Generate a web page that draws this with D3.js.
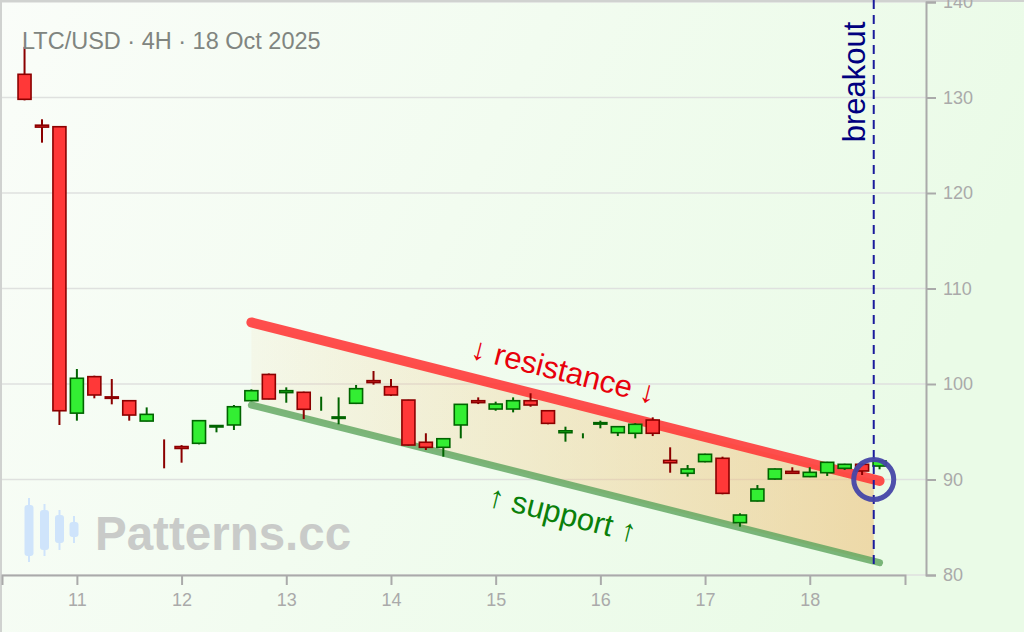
<!DOCTYPE html>
<html>
<head>
<meta charset="utf-8">
<script src="https://cdn.jsdelivr.net/npm/d3@7"></script>
<style>
  html, body { margin: 0; padding: 0; background: #f4fcf3; }
  svg { display: block; font-family: "Liberation Sans", Arial, sans-serif; }
</style>
</head>
<body>
<div id="chart"></div>
<script>
// LTC/USD 4H candles, 10-18 Oct 2025 (day + hour, UTC)
var times = ["10T12","10T16","10T20","11T00","11T04","11T08","11T12","11T16","11T20",
  "12T00","12T04","12T08","12T12","12T16","12T20","13T00","13T04","13T08","13T12","13T16",
  "13T20","14T00","14T04","14T08","14T12","14T16","14T20","15T00","15T04","15T08","15T12",
  "15T16","15T20","16T00","16T04","16T08","16T12","16T16","16T20","17T00","17T04","17T08",
  "17T12","17T16","17T20","18T00","18T04","18T08","18T12","18T16"];
var opens  = [132.43,127.1,126.94,96.95,100.77,98.65,98.25,96.12,92.72,93.45,93.79,95.5,95.71,98.25,
  101.0,99.1,99.13,97.9,96.4,97.98,100.35,99.72,98.32,93.9,93.37,95.71,98.25,97.38,97.38,98.25,
  97.2,94.9,94.58,95.8,94.9,94.84,96.23,92.0,90.65,91.87,92.22,85.48,87.75,90.05,90.85,90.3,
  90.71,91.17,91.59,91.41];
var highs  = [135.3,127.72,127.0,101.57,100.87,100.52,98.3,97.55,94.2,93.6,96.16,95.7,97.8,99.44,
  101.1,99.65,99.2,98.67,98.6,99.9,101.36,100.52,98.35,94.84,94.3,97.9,98.6,98.15,98.6,99.03,
  97.25,95.53,94.84,96.16,95.6,95.9,96.51,93.37,91.52,92.7,92.39,86.46,89.42,91.15,91.28,91.28,
  91.85,91.65,91.65,91.99];
var lows   = [129.7,125.27,95.7,96.16,98.5,97.87,96.16,96.1,91.17,91.76,93.68,94.94,95.18,98.2,
  98.4,98.04,96.33,97.2,95.78,97.9,99.93,98.74,93.55,93.09,92.39,94.31,97.9,97.2,97.03,97.62,
  95.78,93.96,94.31,95.36,94.55,94.31,94.55,90.71,90.3,91.8,88.45,85.06,87.7,90.0,90.6,90.25,
  90.37,91.0,90.47,91.07];
var closes = [129.81,126.9,97.2,100.6,98.85,98.5,96.75,96.82,92.7,93.25,96.16,95.65,97.62,99.3,
  98.43,99.3,97.35,97.92,96.55,99.51,100.15,98.85,93.61,93.37,94.27,97.87,98.05,97.9,98.25,97.8,
  95.88,95.1,94.6,95.95,95.53,95.78,94.84,91.75,91.1,92.64,88.55,86.28,89.0,91.1,90.65,90.75,
  91.8,91.59,90.89,91.94];

var yTicks = [80, 90, 100, 110, 120, 130, 140];
var xTickDays = ["11","12","13","14","15","16","17","18"];

// channel lines: [time, price]
var resistance = [["12T16", 106.45], ["18T16", 89.85]];
var support    = [["12T16", 97.8],   ["18T16", 81.3]];
var breakoutTime = "18T14:40";
var breakoutPrice = 90.0;

var W = 1024, H = 632;
function t(s) { return new Date("2025-10-" + s + (s.length > 5 ? "" : ":00") + ":00Z"); }

var svg = d3.select("#chart").append("svg").attr("width", W).attr("height", H);
var defs = svg.append("defs");

var bg = defs.append("linearGradient").attr("id", "bg")
  .attr("x1", "0").attr("y1", "0").attr("x2", "1").attr("y2", "0.3");
bg.append("stop").attr("offset", "0").attr("stop-color", "#fafdf9");
bg.append("stop").attr("offset", "1").attr("stop-color", "#eafbe7");

svg.append("rect").attr("width", W).attr("height", H).attr("fill", "url(#bg)");

var x = d3.scaleUtc()
  .domain([new Date("2025-10-10T06:50:00Z"), new Date("2025-10-18T21:50:00Z")])
  .range([2, 905]);
var y = d3.scaleLinear().domain([80, 140]).range([575, 2]);

// gridlines
svg.append("g").selectAll("line").data(yTicks).enter().append("line")
  .attr("x1", 0).attr("x2", 926)
  .attr("y1", function(d) { return y(d); }).attr("y2", function(d) { return y(d); })
  .attr("stroke", "#dfe1df").attr("stroke-width", 1.5);

// frame (top + left)
svg.append("line").attr("x1", 0).attr("x2", W).attr("y1", 1).attr("y2", 1)
  .attr("stroke", "#d0d2d0").attr("stroke-width", 2);
svg.append("line").attr("x1", 1).attr("x2", 1).attr("y1", 0).attr("y2", H)
  .attr("stroke", "#d0d2d0").attr("stroke-width", 2);

// watermark
var wm = svg.append("g").attr("fill", "#cfe4fb");
var icon = [[29, 498, 562, 505, 556], [44.5, 504, 556, 510, 550], [59.5, 510, 550, 515, 543], [74, 516, 543, 522, 537]];
icon.forEach(function(c) {
  wm.append("rect").attr("x", c[0] - 1).attr("y", c[1]).attr("width", 2).attr("height", c[2] - c[1]);
  wm.append("rect").attr("x", c[0] - 4.5).attr("y", c[3]).attr("width", 9).attr("height", c[4] - c[3]).attr("rx", 3);
});
svg.append("text").attr("x", 95).attr("y", 550).text("Patterns.cc")
  .attr("font-size", 47.5).attr("font-weight", "bold").attr("fill", "#c9cbc9");

// channel fill
function lerpLine(line, tm) {
  var t0 = +t(line[0][0]), t1 = +t(line[1][0]);
  var k = (tm - t0) / (t1 - t0);
  return line[0][1] + k * (line[1][1] - line[0][1]);
}
var tb = +t(breakoutTime);
var fillGrad = defs.append("linearGradient").attr("id", "chan")
  .attr("gradientUnits", "userSpaceOnUse")
  .attr("x1", x(t(resistance[0][0]))).attr("x2", x(tb)).attr("y1", 0).attr("y2", 0);
fillGrad.append("stop").attr("offset", "0").attr("stop-color", "#f5c27a").attr("stop-opacity", 0.08);
fillGrad.append("stop").attr("offset", "1").attr("stop-color", "#f0bd75").attr("stop-opacity", 0.55);

var poly = [
  [x(t(resistance[0][0])), y(resistance[0][1])],
  [x(tb), y(lerpLine(resistance, tb))],
  [x(tb), y(lerpLine(support, tb))],
  [x(t(support[0][0])), y(support[0][1])]
];
svg.append("path").attr("d", "M" + poly.join("L") + "Z").attr("fill", "url(#chan)");

var lineGen = d3.line().x(function(d) { return x(t(d[0])); }).y(function(d) { return y(d[1]); });
svg.append("path").attr("d", lineGen(support)).attr("stroke", "#5da45d").attr("stroke-opacity", 0.8)
  .attr("stroke-width", 7).attr("stroke-linecap", "round").attr("fill", "none");
svg.append("path").attr("d", lineGen(resistance)).attr("stroke", "#ff3535").attr("stroke-opacity", 0.88)
  .attr("stroke-width", 10).attr("stroke-linecap", "round").attr("fill", "none");

// labels
var ang = Math.atan2(y(resistance[1][1]) - y(resistance[0][1]), x(t(resistance[1][0])) - x(t(resistance[0][0]))) * 180 / Math.PI;
svg.append("text").attr("transform", "translate(563,373) rotate(" + ang + ")")
  .attr("text-anchor", "middle").attr("dominant-baseline", "middle")
  .attr("font-size", 31).attr("fill", "#e8000b").text("\u2193 resistance \u2193");
svg.append("text").attr("transform", "translate(562,516) rotate(" + ang + ")")
  .attr("text-anchor", "middle").attr("dominant-baseline", "middle")
  .attr("font-size", 31).attr("fill", "#0a800a").text("\u2191 support \u2191");

// candles
var candles = times.map(function(s, i) {
  return { t: t(s), o: opens[i], h: highs[i], l: lows[i], c: closes[i] };
});
var bw = 13;
var cg = svg.append("g").selectAll("g").data(candles).enter().append("g");
cg.append("line")
  .attr("x1", function(d) { return x(d.t); }).attr("x2", function(d) { return x(d.t); })
  .attr("y1", function(d) { return y(d.h); }).attr("y2", function(d) { return y(d.l); })
  .attr("stroke", function(d) { return d.c > d.o ? "#006400" : "#8b0000"; })
  .attr("stroke-width", 2);
cg.append("rect")
  .attr("x", function(d) { return x(d.t) - bw / 2; })
  .attr("width", bw)
  .attr("y", function(d) { return y(Math.max(d.o, d.c)); })
  .attr("height", function(d) { var hh = Math.abs(y(d.o) - y(d.c)); return hh < 0.5 ? 0 : hh; })
  .attr("fill", function(d) { return d.c > d.o ? "#33ee33" : "#ff3838"; })
  .attr("stroke", function(d) { return d.c > d.o ? "#006400" : "#8b0000"; })
  .attr("stroke-width", 1.6);

// breakout marker
svg.append("line").attr("x1", x(tb)).attr("x2", x(tb)).attr("y1", 0).attr("y2", 570)
  .attr("stroke", "#1a1a9c").attr("stroke-width", 2).attr("stroke-dasharray", "9,6");
svg.append("circle").attr("cx", x(tb)).attr("cy", y(breakoutPrice)).attr("r", 20)
  .attr("fill", "none").attr("stroke", "#4646a8").attr("stroke-width", 5).attr("stroke-opacity", 0.95);
svg.append("text").attr("transform", "translate(865,82) rotate(-90)")
  .attr("text-anchor", "middle").attr("font-size", 31).attr("fill", "#00007f").text("breakout");

// axes
var xAxis = d3.axisBottom(x)
  .tickValues(xTickDays.map(function(d) { return t(d + "T00"); }))
  .tickFormat(d3.utcFormat("%-d")).tickSize(10).tickPadding(8);
var gx = svg.append("g").attr("transform", "translate(0,575)").call(xAxis);
var yAxis = d3.axisRight(y).tickValues(yTicks).tickSize(10).tickPadding(7);
var gy = svg.append("g").attr("transform", "translate(926,0)").call(yAxis);
[gx, gy].forEach(function(g) {
  g.selectAll("path, line").attr("stroke", "#aaaaaa").attr("stroke-width", 2);
  g.selectAll("text").attr("fill", "#aaaaaa").attr("font-size", 18)
    .attr("font-family", "Liberation Sans, Arial, sans-serif");
});

// title
svg.append("text").attr("x", 22).attr("y", 49).attr("font-size", 23.5).attr("fill", "#808580")
  .text("LTC/USD \u00b7 4H \u00b7 18 Oct 2025");
</script>
</body>
</html>
